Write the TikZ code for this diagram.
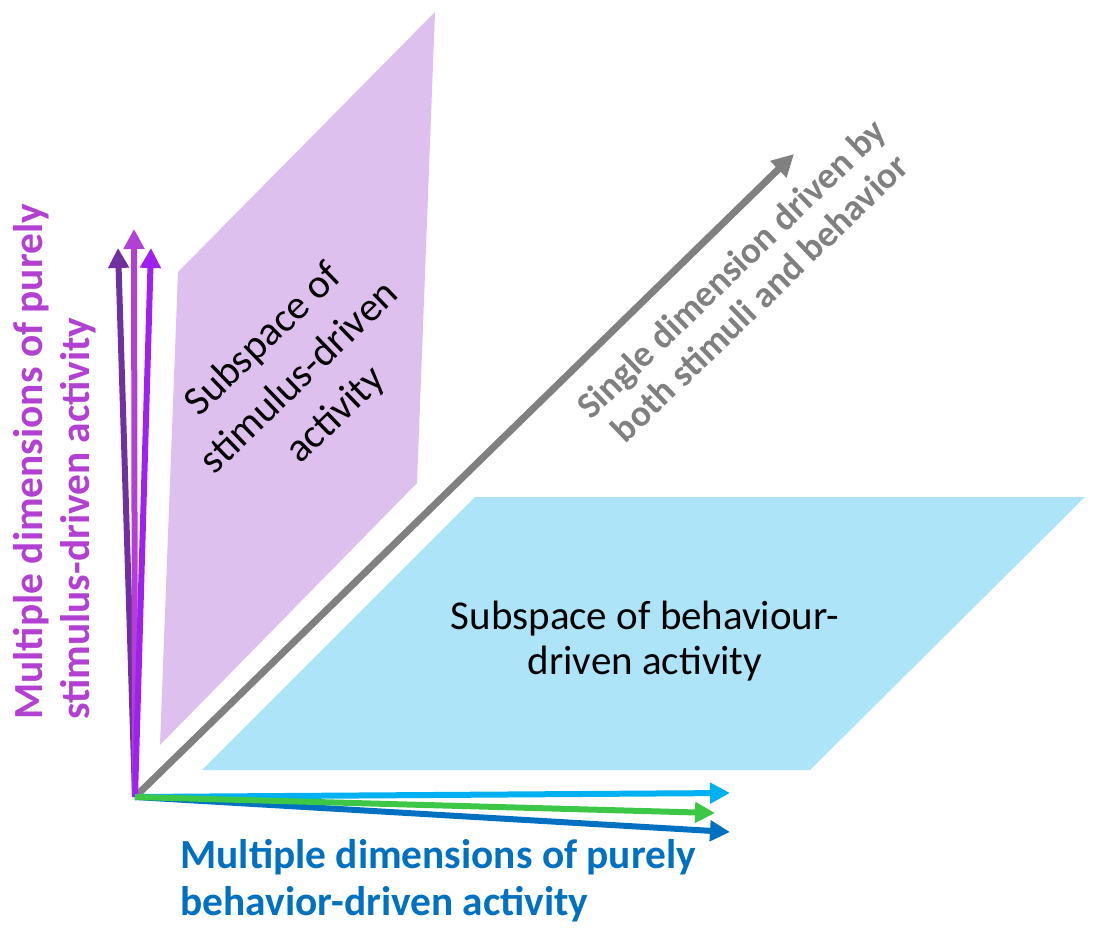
\documentclass[tikz,border=0pt]{standalone}
\usepackage{fontspec}
\setmainfont{Carlito}
\usetikzlibrary{arrows.meta}

\definecolor{lilac}{RGB}{222,192,238}
\definecolor{skyplane}{RGB}{173,228,247}
\definecolor{darkpurple}{RGB}{112,48,160}
\definecolor{midpurple}{RGB}{178,64,210}
\definecolor{brightpurple}{RGB}{160,32,240}
\definecolor{cyanaxis}{RGB}{0,176,240}
\definecolor{greenaxis}{RGB}{60,200,70}
\definecolor{blueaxis}{RGB}{0,112,192}
\definecolor{grayaxis}{RGB}{128,128,128}

\begin{document}
\begin{tikzpicture}[x=0.5pt,y=-0.5pt,
  axis/.style={line width=3pt,-{Triangle[length=10pt,width=10pt]}},
  label/.style={inner sep=0pt,font=\fontsize{20.5}{22.5}\selectfont,align=center},
  biglabel/.style={inner sep=0pt,font=\fontsize{20.7}{23.5}\selectfont\bfseries,align=left}]

\useasboundingbox (0,0) rectangle (1097,946);

% planes
\fill[lilac] (435,12) -- (417,483) -- (160,745) -- (178,272) -- cycle;
\fill[skyplane] (475,497) -- (1085,497) -- (810,770) -- (202,770) -- cycle;

\coordinate (O) at (135,797);
\coordinate (S1) at (118,248);
\coordinate (S2) at (134,229);
\coordinate (S3) at (151,248);
\coordinate (B1) at (730,793);
\coordinate (B2) at (715,813);
\coordinate (B3) at (730,832);
\coordinate (G) at (794,154);

\draw[axis,grayaxis,line width=3.5pt,-{Triangle[length=11pt,width=11pt]}] (O) -- (G);

\draw[axis,darkpurple] (O) -- (S1);
\draw[axis,midpurple] (O) -- (S2);
\draw[axis,brightpurple] (O) -- (S3);

\draw[axis,blueaxis] (O) -- (B3);
\draw[axis,cyanaxis] (O) -- (B1);
\draw[axis,greenaxis] (O) -- (B2);

\node[label,rotate=44,font=\fontsize{20.5}{26}\selectfont] (stim) at (300,378) {Subspace of\\stimulus-driven\\activity};
\node[label] (behav) at (645,641) {Subspace of behaviour-\\driven activity};
\node[label,text=grayaxis,rotate=44,font=\fontsize{18.5}{20.5}\selectfont\bfseries] (both) at (745,283) {Single dimension driven by\\both stimuli and behavior};

\node[biglabel,text=midpurple,rotate=90,anchor=west] (stimaxis) at (55,720) {Multiple dimensions of purely\\stimulus-driven activity};
\node[biglabel,text=blueaxis,anchor=west] (behaxis) at (180,881) {Multiple dimensions of purely\\behavior-driven activity};

\end{tikzpicture}
\end{document}
